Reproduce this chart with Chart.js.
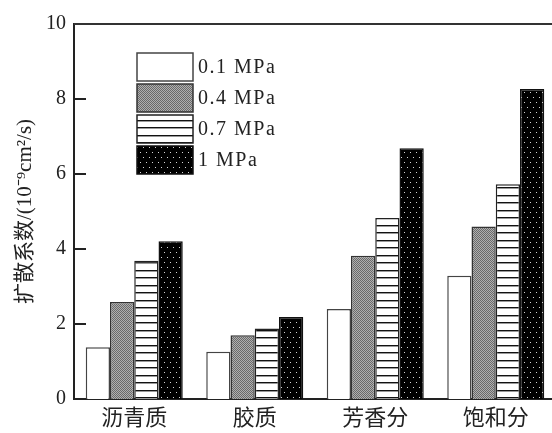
<!DOCTYPE html>
<html>
<head>
<meta charset="utf-8">
<script src="https://cdn.jsdelivr.net/npm/chart.js@4/dist/chart.umd.min.js"></script>
<style>
html,body{margin:0;padding:0;background:#fff;overflow:hidden;}
#wrap{width:552px;height:433px;overflow:hidden;position:relative;}
canvas{display:block;}
</style>
</head>
<body>
<div id="wrap"><canvas id="c" width="560" height="433"></canvas></div>
<script>
const categories = ['沥青质', '胶质', '芳香分', '饱和分'];
const seriesLabels = ['0.1 MPa', '0.4 MPa', '0.7 MPa', '1 MPa'];
const p01 = [1.38, 1.26, 2.40, 3.29];
const p04 = [2.59, 1.70, 3.82, 4.60];
const p07 = [3.69, 1.88, 4.83, 5.73];
const p10 = [4.21, 2.19, 6.69, 8.27];
const yTicks = [0, 2, 4, 6, 8, 10];
const yTitle = '扩散系数/(10⁻⁹cm²/s)';

function tile(w, h, draw) {
  const c = document.createElement('canvas');
  c.width = w; c.height = h;
  const g = c.getContext('2d');
  draw(g);
  return document.getElementById('c').getContext('2d').createPattern(c, 'repeat');
}
const grayPat = tile(2, 2, g => {
  g.fillStyle = '#b0b0b0'; g.fillRect(0, 0, 2, 2);
  g.fillStyle = '#6a6a6a'; g.fillRect(0, 0, 1, 1); g.fillRect(1, 1, 1, 1);
});
const linePat = tile(4, 15, g => {
  g.fillStyle = '#fff'; g.fillRect(0, 0, 4, 15);
  g.fillStyle = '#111'; g.fillRect(0, 0, 4, 1); g.fillRect(0, 7, 4, 1);
  g.fillStyle = '#999'; g.fillRect(0, 1, 4, 1); g.fillRect(0, 8, 4, 1);
});
const dotPat = tile(12, 10, g => {
  g.fillStyle = '#000'; g.fillRect(0, 0, 12, 10);
  g.fillStyle = '#d8d8d8';
  g.fillRect(2, 2, 1, 1); g.fillRect(8, 2, 1, 1);
  g.fillRect(5, 7, 1, 1); g.fillRect(11, 7, 1, 1);
});

const serif = "'Liberation Serif', 'Times New Roman', serif";
const cjk = "'Liberation Serif', 'Noto Sans CJK SC', serif";

const styles = [
  {bg: '#ffffff', border: '#444'},
  {bg: grayPat, border: '#333'},
  {bg: linePat, border: '#222'},
  {bg: dotPat, border: '#111'}
];
const values = [p01, p04, p07, p10];

const extras = {
  id: 'extras',
  afterDraw(chart) {
    const ctx = chart.ctx;
    const a = chart.chartArea;
    const y = chart.scales.y;
    ctx.save();
    // top frame line
    ctx.strokeStyle = '#333';
    ctx.lineWidth = 2;
    ctx.beginPath();
    ctx.moveTo(a.left, a.top);
    ctx.lineTo(a.right + 10, a.top);
    ctx.stroke();
    // inward ticks
    ctx.strokeStyle = '#222';
    yTicks.forEach(v => {
      if (v === 0 || v === 10) return;
      const py = y.getPixelForValue(v);
      ctx.beginPath();
      ctx.moveTo(a.left, py);
      ctx.lineTo(a.left + 12, py);
      ctx.stroke();
    });
    // legend
    const lx = 137, ly = 53, bw = 56, bh = 28, step = 31;
    chart.data.datasets.forEach((ds, i) => {
      const by = ly + i * step;
      ctx.fillStyle = ds.backgroundColor;
      ctx.fillRect(lx, by, bw, bh);
      ctx.lineWidth = 1.5;
      ctx.strokeStyle = ds.borderColor;
      ctx.strokeRect(lx, by, bw, bh);
      ctx.fillStyle = '#222';
      ctx.font = '20px ' + serif;
      ctx.textBaseline = 'middle';
      ctx.textAlign = 'left';
      if ('letterSpacing' in ctx) ctx.letterSpacing = '1.5px';
      ctx.fillText(ds.label, lx + bw + 5, by + bh / 2 + 1);
      if ('letterSpacing' in ctx) ctx.letterSpacing = '0px';
    });
    ctx.restore();
  }
};

new Chart(document.getElementById('c'), {
  type: 'bar',
  data: {
    labels: categories,
    datasets: values.map((v, i) => ({
      label: seriesLabels[i],
      data: v,
      backgroundColor: styles[i].bg,
      borderColor: styles[i].border,
      borderWidth: 1.5,
      categoryPercentage: 0.805,
      barPercentage: 1.0
    }))
  },
  options: {
    responsive: false,
    animation: false,
    layout: {padding: {top: 24, right: 4, left: 0, bottom: 0}},
    plugins: {legend: {display: false}, tooltip: {enabled: false}},
    scales: {
      x: {
        type: 'category',
        offset: true,
        grid: {display: false, drawTicks: false},
        border: {display: true, color: '#222', width: 2},
        ticks: {font: {size: 22, family: "'Noto Sans CJK SC', sans-serif"}, color: '#222', padding: 4, maxRotation: 0},
        afterFit(s) { s.height = 34; }
      },
      y: {
        min: 0, max: 10,
        afterBuildTicks(s) { s.ticks = yTicks.map(v => ({value: v})); },
        grid: {display: false, drawTicks: false},
        border: {display: true, color: '#222', width: 2},
        ticks: {font: {size: 20, family: serif}, color: '#222', padding: 8},
        title: {display: true, text: yTitle, font: {size: 21, family: cjk}, color: '#222', padding: {top: 13, bottom: 0}},
        afterFit(s) { s.width = 74; }
      }
    }
  },
  plugins: [extras]
});
</script>
</body>
</html>
